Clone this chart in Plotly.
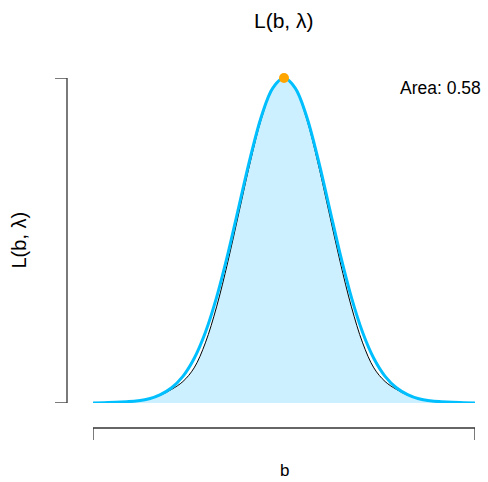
import plotly.graph_objects as go

# ---- data ----
b_half = [0.0, 0.25, 0.5, 0.75, 1.0, 1.25, 1.5, 1.75, 2.0, 2.25, 2.5, 2.75, 3.0, 3.25, 3.5, 3.75, 4.0, 4.25]
blue_half = [1.000, 0.969, 0.883, 0.755, 0.607, 0.458, 0.325, 0.217, 0.137, 0.082, 0.047, 0.026, 0.013, 0.007, 0.004, 0.002, 0.001, 0.000]
black_half = [1.000, 0.967, 0.876, 0.742, 0.588, 0.434, 0.296, 0.185, 0.108, 0.066, 0.042, 0.024, 0.012, 0.006, 0.003, 0.001, 0.000, 0.000]

b_vals = [-v for v in b_half[:0:-1]] + b_half
blue_vals = blue_half[:0:-1] + blue_half
black_vals = black_half[:0:-1] + black_half

peak_b = [0.0]
peak_L = [1.0]
area_text = "Area: 0.58"
title_text = "L(b, λ)"
xlabel = "b"
ylabel = "L(b, λ)"

FONT = "Liberation Sans, Arial, sans-serif"

fig = go.Figure()
fig.add_trace(go.Scatter(x=b_vals, y=black_vals, mode="lines", fill="tozeroy",
                         fillcolor="#CCF0FF", line=dict(color="black", width=1, shape="spline"),
                         cliponaxis=False, hoverinfo="skip"))
fig.add_trace(go.Scatter(x=b_vals, y=blue_vals, mode="lines",
                         line=dict(color="#00BFFF", width=3, shape="spline"),
                         cliponaxis=False))
fig.add_trace(go.Scatter(x=peak_b, y=peak_L, mode="markers",
                         marker=dict(color="#FFA500", size=10), cliponaxis=False))

bmin, bmax = min(b_vals), max(b_vals)
W, H = 488, 482
ml, mr, mt, mb = 93, 13, 78, 79
pw, ph = W - ml - mr, H - mt - mb

# R-style bracket axes
yx = -26 / pw
ytick = -38 / pw
xy = -25 / ph
xtick = -37 / ph
ax_line = dict(color="#333333", width=1.3)
shapes = [
    dict(type="line", xref="paper", yref="y", x0=yx, x1=yx, y0=0, y1=1, line=ax_line),
    dict(type="line", xref="paper", yref="y", x0=ytick, x1=yx, y0=0, y1=0, line=ax_line),
    dict(type="line", xref="paper", yref="y", x0=ytick, x1=yx, y0=1, y1=1, line=ax_line),
    dict(type="line", xref="x", yref="paper", x0=bmin, x1=bmax, y0=xy, y1=xy, line=ax_line),
    dict(type="line", xref="x", yref="paper", x0=bmin, x1=bmin, y0=xy, y1=xtick, line=ax_line),
    dict(type="line", xref="x", yref="paper", x0=bmax, x1=bmax, y0=xy, y1=xtick, line=ax_line),
]

annotations = [
    dict(text=title_text, xref="paper", yref="paper", x=0.5, y=(H - 20 - mb) / ph,
         showarrow=False, font=dict(size=21, family=FONT, color="black"), xanchor="center", yanchor="middle"),
    dict(text=xlabel, xref="paper", yref="paper", x=0.5, y=-(470 - 403) / ph,
         showarrow=False, font=dict(size=17, family=FONT, color="black"), xanchor="center", yanchor="middle"),
    dict(text=ylabel, xref="paper", yref="paper", x=-(93 - 18) / pw, y=0.5, textangle=-90,
         showarrow=False, font=dict(size=20, family=FONT, color="black"), xanchor="center", yanchor="middle"),
    dict(text=area_text, xref="paper", yref="paper", x=(483 - ml) / pw, y=(403 - 88) / ph,
         showarrow=False, font=dict(size=17.5, family=FONT, color="black"), xanchor="right", yanchor="middle"),
]

fig.update_layout(
    width=W, height=H, margin=dict(l=ml, r=mr, t=mt, b=mb),
    plot_bgcolor="white", paper_bgcolor="white", showlegend=False,
    xaxis=dict(range=[bmin, bmax], visible=False),
    yaxis=dict(range=[0, 1], visible=False),
    shapes=shapes, annotations=annotations,
)
fig.write_html("out.html")
